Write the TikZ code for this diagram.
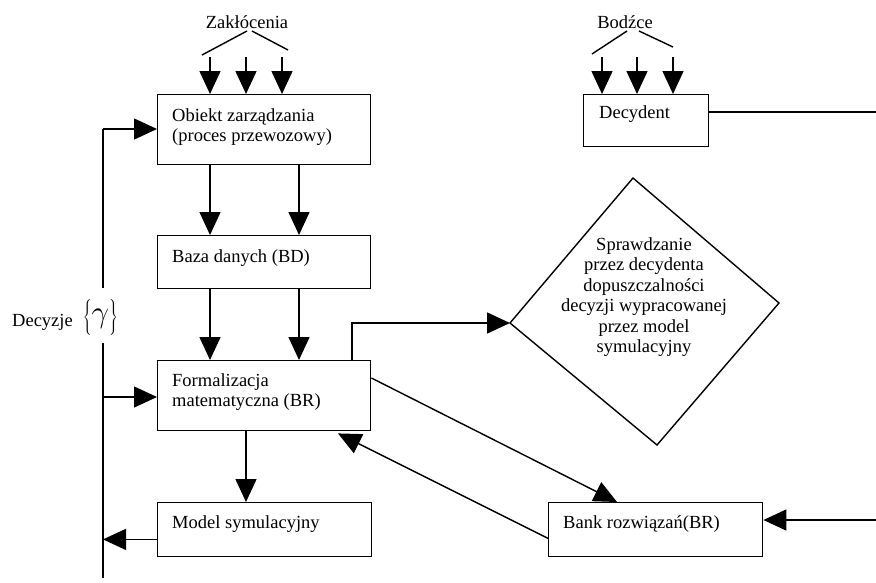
\documentclass[tikz,border=0pt]{standalone}
\usepackage{fontspec}
\usepackage{graphicx}
\setmainfont{Liberation Serif}
\usetikzlibrary{arrows.meta,calc}
\newcommand{\mlL}[1]{\begin{tabular}[t]{@{}l@{}}#1\end{tabular}}
\newcommand{\mlC}[1]{\begin{tabular}[t]{@{}c@{}}#1\end{tabular}}
\begin{document}
\begin{tikzpicture}[x=1pt,y=-1pt,
  every node/.style={font=\fontsize{18.5}{20.5}\selectfont, inner sep=0pt},
  boxn/.style={draw, line width=1.4pt, rectangle, anchor=north west, inner sep=0pt},
  lbl/.style={anchor=base west},
  lblc/.style={anchor=base},
  ln/.style={line width=1.4pt},
  arr/.style={line width=1.4pt, -{Triangle[length=23pt 0 0,width=21pt 0 0]}}]
\useasboundingbox (0,0) rectangle (876,582);

% boxes
\node[boxn, minimum width=213pt, minimum height=70pt] (obj) at (157,94) {};
\node[boxn, minimum width=125pt, minimum height=52pt] (decy) at (583,94) {};
\node[boxn, minimum width=213pt, minimum height=53pt] (baza) at (157,235) {};
\node[boxn, minimum width=213pt, minimum height=70pt] (form) at (157,360) {};
\node[boxn, minimum width=214pt, minimum height=54pt] (model) at (157,502) {};
\node[boxn, minimum width=214pt, minimum height=54pt] (bank) at (548,502) {};

% diamond
\coordinate (dT) at (633,178);
\coordinate (dL) at (510,323);
\coordinate (dB) at (657,445);
\coordinate (dR) at (779,303);
\draw[ln, line join=miter] (dT) -- (dR) -- (dB) -- (dL) -- cycle;

% texts
\node[lbl] (objt) at (172,121) {\mlL{Obiekt zarządzania\\(proces przewozowy)}};
\node[lbl] (bazat) at (172,262) {Baza danych (BD)};
\node[lbl] (formt) at (172,386) {\mlL{Formalizacja\\matematyczna (BR)}};
\node[lbl] (modelt) at (172,528) {Model symulacyjny};
\node[lbl] (bankt) at (563,528) {Bank rozwiązań(BR)};
\node[lbl] (decyt) at (599,118) {Decydent};
\node[lblc] (diat) at (644,250) {\mlC{Sprawdzanie\\przez decydenta\\dopuszczalności\\decyzji wypracowanej\\przez model\\symulacyjny}};
\node[lblc] (zak) at (247,28) {Zakłócenia};
\node[lblc] (bod) at (625,28) {Bodźce};
\node[lbl] (dec) at (12,326) {Decyzje\hspace{10pt}\raisebox{4pt}{$\left\{\vphantom{\rule[-13pt]{0pt}{31pt}}\scalebox{1.8}{$\gamma$}\right\}$}};

% Zaklocenia fan
\coordinate (zl1) at (202,55); \coordinate (zl2) at (247,31);
\coordinate (zl3) at (252,31); \coordinate (zl4) at (288,50);
\draw[ln] (zl1) -- (zl2);
\draw[ln] (zl3) -- (zl4);
\coordinate (za1) at (210,57); \coordinate (za2) at (246,57); \coordinate (za3) at (282,57);
\draw[arr] (za1) -- (za1 |- obj.north);
\draw[arr] (za2) -- (za2 |- obj.north);
\draw[arr] (za3) -- (za3 |- obj.north);

% Bodzce fan
\coordinate (bl1) at (592,54); \coordinate (bl2) at (627,31);
\coordinate (bl3) at (639,31); \coordinate (bl4) at (673,47);
\draw[ln] (bl1) -- (bl2);
\draw[ln] (bl3) -- (bl4);
\coordinate (ba1) at (602,57); \coordinate (ba2) at (637,57); \coordinate (ba3) at (673,57);
\draw[arr] (ba1) -- (ba1 |- decy.north);
\draw[arr] (ba2) -- (ba2 |- decy.north);
\draw[arr] (ba3) -- (ba3 |- decy.north);

% Decydent line
\coordinate (dOut) at ($(decy.north east)+(0,18)$);
\coordinate (dEnd) at (876,112);
\draw[ln] (dOut) -- (dEnd);

% vertical flow
\coordinate (cx1) at (210,0); \coordinate (cx2) at (299,0); \coordinate (cx3) at (246,0);
\draw[arr] (cx1 |- obj.south) -- (cx1 |- baza.north);
\draw[arr] (cx2 |- obj.south) -- (cx2 |- baza.north);
\draw[arr] (cx1 |- baza.south) -- (cx1 |- form.north);
\draw[arr] (cx2 |- baza.south) -- (cx2 |- form.north);
\draw[arr] (cx3 |- form.south) -- (cx3 |- model.north);

% form -> diamond
\coordinate (fx) at (352,0);
\draw[arr, line join=miter] (fx |- form.north) |- (dL);

% form -> bank, bank -> form
\draw[arr] ($(form.north east)+(0,18)$) -- ($(bank.north west)+(69,0)$);
\draw[arr] ($(bank.south west)+(0,-19)$) -- ($(form.south west)+(181,2)$);

% bank input
\coordinate (bIn) at (876,520);
\draw[arr] (bIn) -- (bIn -| bank.east);

% left decision line
\coordinate (vTop) at (103,129);
\coordinate (vB1) at (103,288);
\coordinate (vB2) at (103,343);
\coordinate (vBot) at (103,578);
\coordinate (vF) at (103,397);
\draw[ln, line join=miter] (vB1) -- (vTop);
\draw[arr] (vTop) -- (vTop -| obj.west);
\draw[ln] (vB2) -- (vBot);
\draw[arr] (vF) -- (vF -| form.west);
\coordinate (mOut) at ($(model.south west)+(0,-18)$);
\draw[arr] (mOut) -- (vBot |- mOut);
\end{tikzpicture}
\end{document}
